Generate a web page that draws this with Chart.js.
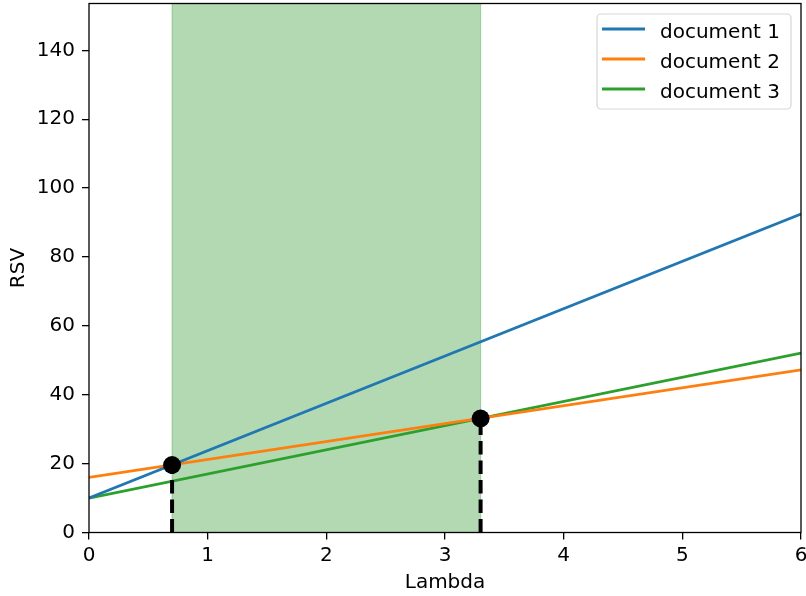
<!DOCTYPE html>
<html><head><meta charset="utf-8">
<script src="https://cdn.jsdelivr.net/npm/chart.js@4.4.0/dist/chart.umd.min.js"></script>
<style>html,body{margin:0;padding:0;background:#fff}canvas{display:block}</style>
</head><body>
<canvas id="c" width="806" height="596"></canvas>
<script>
// ---- data ----
const lambdaEnds = [0, 6];
const document1 = [10, 92.5];
const document2 = [16, 47.2];
const document3 = [10, 52.1];
const seriesLabels = ['document 1', 'document 2', 'document 3'];
const seriesColors = ['#1f77b4', '#ff7f0e', '#2ca02c'];
const crossLambda = [0.7, 3.3];
const crossRSV = [19.6, 33.1];
const spanRange = [0.7, 3.3];
const xTicks = [0, 1, 2, 3, 4, 5, 6];
const yTicks = [0, 20, 40, 60, 80, 100, 120, 140];
const xRange = [0, 6];
const yRange = [0, 153.6];
const xTitle = 'Lambda';
const yTitle = 'RSV';

Chart.defaults.font.family = "'DejaVu Sans', sans-serif";
Chart.defaults.font.size = 20;
Chart.defaults.color = '#000';

const toPts = (xs, ys) => xs.map((x, i) => ({x: x, y: ys[i]}));
const seriesData = [document1, document2, document3];

const datasets = [];
seriesData.forEach((ys, i) => {
  datasets.push({
    type: 'line', label: seriesLabels[i], data: toPts(lambdaEnds, ys),
    borderColor: seriesColors[i], backgroundColor: seriesColors[i],
    borderWidth: 2.8, pointRadius: 0, fill: false, tension: 0, order: 3, inLegend: true
  });
});
crossLambda.forEach((lx, i) => {
  datasets.push({
    type: 'line', label: 'cut ' + i, data: [{x: lx, y: 0}, {x: lx, y: crossRSV[i]}],
    borderColor: '#000', borderWidth: 4, borderDash: [13.5, 6], pointRadius: 0,
    fill: false, order: 2, inLegend: false
  });
});
datasets.push({
  type: 'scatter', label: 'cross', data: toPts(crossLambda, crossRSV),
  backgroundColor: '#000', borderColor: '#000', borderWidth: 0, pointRadius: 9,
  order: 1, inLegend: false
});

const decor = {
  id: 'decor',
  beforeDatasetsDraw(chart) {
    const {ctx, chartArea: a, scales: {x}} = chart;
    const x0 = x.getPixelForValue(spanRange[0]);
    const x1 = x.getPixelForValue(spanRange[1]);
    ctx.save();
    ctx.fillStyle = 'rgba(0,128,0,0.3)';
    ctx.fillRect(x0, a.top, x1 - x0, a.bottom - a.top);
    ctx.strokeStyle = 'rgba(0,128,0,0.25)';
    ctx.lineWidth = 1.2;
    ctx.strokeRect(x0, a.top, x1 - x0, a.bottom - a.top);
    ctx.restore();
  },
  afterDatasetsDraw(chart) {
    const {ctx, chartArea: a} = chart;
    ctx.save();
    // axes frame
    ctx.strokeStyle = '#000';
    ctx.lineWidth = 1.3;
    ctx.strokeRect(a.left, a.top, a.right - a.left, a.bottom - a.top);
    // legend
    const items = chart.data.datasets.filter(d => d.inLegend);
    ctx.font = "20px 'DejaVu Sans'";
    const tw = Math.max(...items.map(d => ctx.measureText(d.label).width));
    const right = a.right - 10;
    const top = a.top + 10.5;
    const textX = right - 11 - tw;
    const hx1 = textX - 15, hx0 = hx1 - 43;
    const left = hx0 - 5;
    const rowH = 30;
    const h = 95;
    ctx.beginPath();
    ctx.roundRect(left, top, right - left, h, 4);
    ctx.fillStyle = 'rgba(255,255,255,0.8)';
    ctx.fill();
    ctx.strokeStyle = 'rgba(204,204,204,0.8)';
    ctx.lineWidth = 1.2;
    ctx.stroke();
    items.forEach((d, i) => {
      const y = top + 15 + i * rowH;
      ctx.beginPath();
      ctx.moveTo(hx0, y); ctx.lineTo(hx1, y);
      ctx.strokeStyle = d.borderColor; ctx.lineWidth = 2.8; ctx.stroke();
      ctx.fillStyle = '#000';
      ctx.textBaseline = 'alphabetic';
      ctx.textAlign = 'left';
      ctx.fillText(d.label, textX, y + 8.7);
    });
    ctx.restore();
  }
};

new Chart(document.getElementById('c'), {
  data: {datasets},
  options: {
    responsive: false, animation: false,
    layout: {autoPadding: false, padding: {left: 0, top: 3.5, right: 5, bottom: 0}},
    plugins: {legend: {display: false}, tooltip: {enabled: false}},
    scales: {
      x: {
        type: 'linear', min: xRange[0], max: xRange[1],
        afterBuildTicks: s => { s.ticks = xTicks.map(v => ({value: v})); },
        afterFit: s => { s.height = 63.5; s.paddingLeft = 0; s.paddingRight = 0; },
        border: {display: false},
        grid: {drawOnChartArea: false, drawTicks: true, tickLength: 7, color: '#000', lineWidth: 1.3},
        ticks: {padding: 4, maxRotation: 0, autoSkip: false, color: '#000'},
        title: {display: true, text: xTitle, color: '#000', padding: {top: 0, bottom: 1.5}}
      },
      y: {
        type: 'linear', min: yRange[0], max: yRange[1],
        afterBuildTicks: s => { s.ticks = yTicks.map(v => ({value: v})); },
        afterFit: s => { s.width = 89; s.paddingTop = 0; s.paddingBottom = 0; },
        border: {display: false},
        grid: {drawOnChartArea: false, drawTicks: true, tickLength: 7, color: '#000', lineWidth: 1.3},
        ticks: {padding: 7, color: '#000'},
        title: {display: true, text: yTitle, color: '#000', padding: {top: 6.8, bottom: 0}}
      }
    }
  },
  plugins: [decor]
});
</script>
</body></html>
